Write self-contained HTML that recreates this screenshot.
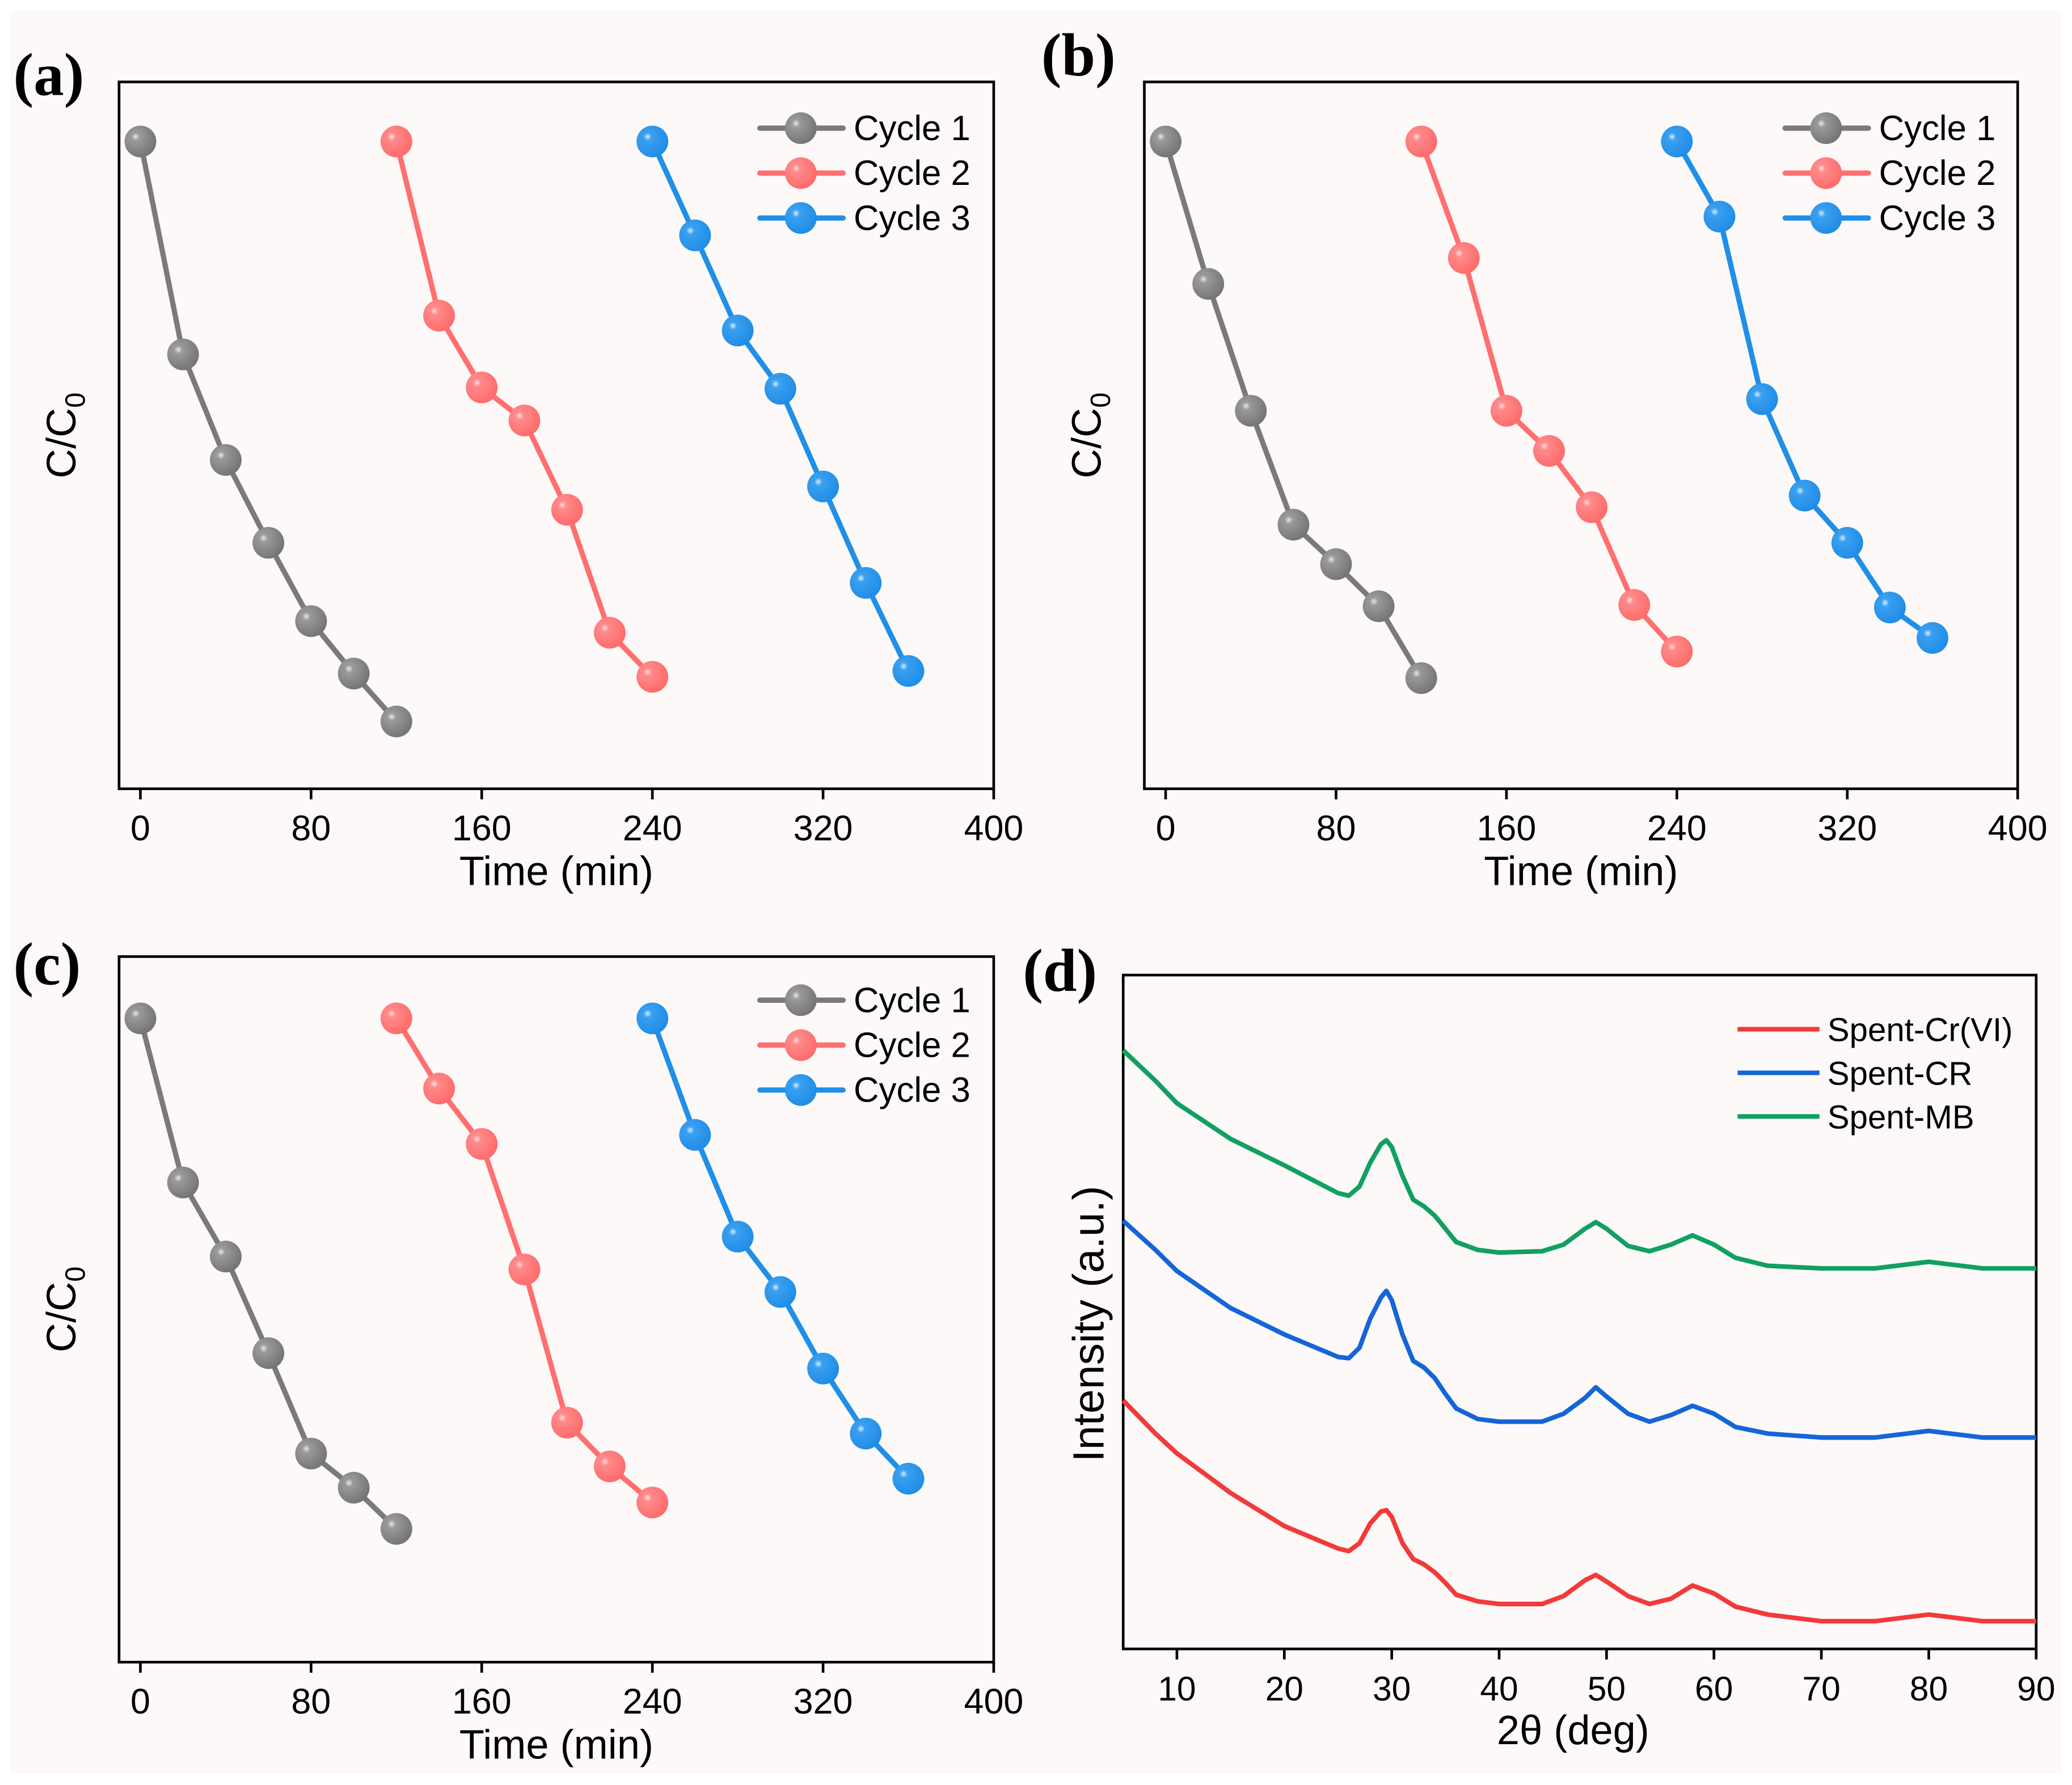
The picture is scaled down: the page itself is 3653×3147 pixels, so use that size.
<!DOCTYPE html>
<html><head><meta charset="utf-8"><style>
html,body{margin:0;padding:0;background:#fff;}
svg{display:block;font-family:"Liberation Sans",sans-serif;}
</style></head><body>
<svg id="fig" xmlns="http://www.w3.org/2000/svg" width="3653" height="3147" viewBox="0 0 1568 1351">
<defs>
<radialGradient id="gGray" cx="0.35" cy="0.35" r="0.7"><stop offset="0" stop-color="#e8e8e8"/><stop offset="0.18" stop-color="#9a9a9a"/><stop offset="1" stop-color="#737373"/></radialGradient>
<radialGradient id="gRed" cx="0.35" cy="0.35" r="0.7"><stop offset="0" stop-color="#ffe0e0"/><stop offset="0.18" stop-color="#ff8a8a"/><stop offset="1" stop-color="#ff6a6a"/></radialGradient>
<radialGradient id="gBlue" cx="0.35" cy="0.35" r="0.7"><stop offset="0" stop-color="#d8ecff"/><stop offset="0.18" stop-color="#3aa0f0"/><stop offset="1" stop-color="#1e8ce6"/></radialGradient>
</defs>
<rect x="8" y="8" width="1552" height="1335" fill="#fdf9f8"/>
<g id="root"></g>
</svg>
<script>
// ---- data: kinetics panels ----
const cycle1Times = [0,20,40,60,80,100,120];
const cycle2Times = [120,140,160,180,200,220,240];
const cycle3Times = [240,260,280,300,320,340,360];
const xTicks = [0,80,160,240,320,400];
const legendLabels = ["Cycle 1","Cycle 2","Cycle 3"];
const aCycle1 = [1,0.671,0.508,0.380,0.259,0.178,0.104];
const aCycle2 = [1,0.731,0.620,0.569,0.431,0.241,0.173];
const aCycle3 = [1,0.855,0.708,0.618,0.467,0.318,0.182];
const bCycle1 = [1,0.780,0.584,0.408,0.347,0.282,0.171];
const bCycle2 = [1,0.820,0.584,0.522,0.435,0.284,0.212];
const bCycle3 = [1,0.884,0.602,0.453,0.380,0.280,0.233];
const cCycle1 = [1,0.745,0.630,0.480,0.324,0.271,0.207];
const cCycle2 = [1,0.891,0.805,0.610,0.372,0.304,0.248];
const cCycle3 = [1,0.819,0.661,0.575,0.456,0.355,0.285];
// ---- data: XRD panel ----
const xrdAngles = [5,8,10,15,20,25,26,27,28,29,29.5,30,31,32,33,34,35,36,38,40,44,46,48,49,50,52,54,56,58,60,62,65,70,75,80,85,90];
const xrdMB = [453,430,413,386,366,345,343,350,368,382,385,380,358,340,335,328,318,308,302,300,301,306,318,323,318,305,301,306,313,306,296,290,288,288,293,288,288];
const xrdCR = [324,302,286,258,238,221,220,228,250,266,271,264,238,218,213,205,193,182,174,172,172,178,190,198,191,178,172,177,184,178,168,163,160,160,165,160,160];
const xrdCrVI = [188,163,148,118,93,76,74,80,95,104,105,100,80,68,64,58,50,41,36,34,34,40,52,56,51,40,34,38,48,42,32,26,21,21,26,21,21];
const xrdTicks = [10,20,30,40,50,60,70,80,90];
const xrdLabels = ["Spent-Cr(VI)","Spent-CR","Spent-MB"];

const NS="http://www.w3.org/2000/svg";
const root=document.getElementById('root');
function mk(tag,attrs,parent){const e=document.createElementNS(NS,tag);for(const k in attrs)e.setAttribute(k,attrs[k]);(parent||root).appendChild(e);return e;}

const colors=["#7a7a7a","#ff6f6f","#1f8fe8"];
const grads=["url(#gGray)","url(#gRed)","url(#gBlue)"];

function kinetic(name,box,ymax,series,legendY,label,labelPos){
  const g=mk('g',{});
  
  
  const xs=v=>box.l+(v+10)/410*(box.r-box.l);
  const ys=v=>box.b-v/ymax*(box.b-box.t);
  const fr=mk('rect',{x:box.l,y:box.t,width:box.r-box.l,height:box.b-box.t,fill:'none',stroke:'#000','stroke-width':2},g);
  
  
  xTicks.forEach(t=>{
    const tk=mk('line',{x1:xs(t),x2:xs(t),y1:box.b,y2:box.b+8,stroke:'#000','stroke-width':2},g);
    
    
    const tl=mk('text',{x:xs(t),y:box.b+39,'text-anchor':'middle','font-size':27},g);
    tl.textContent=t;
    
    
  });
  const xt=mk('text',{x:(box.l+box.r)/2,y:box.b+73,'text-anchor':'middle','font-size':31},g);
  xt.textContent='Time (min)';
  
  
  const yt=mk('text',{x:0,y:0,'text-anchor':'middle','font-size':31,transform:`translate(${box.l-33},${(box.t+box.b)/2}) rotate(-90)`},g);
  yt.innerHTML='C/C<tspan font-size="21" dy="7">0</tspan>';
  
  
  const times=[cycle1Times,cycle2Times,cycle3Times];
  series.forEach((vals,i)=>{
    const pts=vals.map((v,j)=>xs(times[i][j])+','+ys(v)).join(' ');
    const pl=mk('polyline',{points:pts,fill:'none',stroke:colors[i],'stroke-width':4,'stroke-linejoin':'round'},g);
    
    
    vals.forEach((v,j)=>{
      const c=mk('circle',{cx:xs(times[i][j]),cy:ys(v),r:12,fill:grads[i]},g);
      
      
    });
  });
  legendLabels.forEach((lb,i)=>{
    const y=legendY+i*34;
    const ll=mk('line',{x1:box.l+485,x2:box.l+548,y1:y,y2:y,stroke:colors[i],'stroke-width':4,'stroke-linecap':'round'},g);
    
    
    const lc=mk('circle',{cx:box.l+516,cy:y,r:12,fill:grads[i]},g);
    
    
    const lt=mk('text',{x:box.l+556,y:y+9,'font-size':26.5},g);
    lt.textContent=lb;
    
    
  });
  const pl=mk('text',{x:labelPos[0],y:labelPos[1],'font-size':46,'font-weight':'bold','font-family':'Liberation Serif, serif'},g);
  pl.textContent=label;
  
  
}
kinetic('panel-a',{l:90,r:752,t:62,b:597},1.092,[aCycle1,aCycle2,aCycle3],97,'(a)',[10,72]);
kinetic('panel-b',{l:866,r:1527,t:62,b:597},1.092,[bCycle1,bCycle2,bCycle3],97,'(b)',[788,57]);
kinetic('panel-c',{l:90,r:752,t:724,b:1258},1.096,[cCycle1,cCycle2,cCycle3],757,'(c)',[10,745]);

// XRD panel
(function(){
  const box={l:850,r:1541,t:738,b:1248};
  const g=mk('g',{});
  
  
  const xs=v=>box.l+(v-5)/85*(box.r-box.l);
  const ys=v=>box.b-v/510*(box.b-box.t);
  const fr=mk('rect',{x:box.l,y:box.t,width:box.r-box.l,height:box.b-box.t,fill:'none',stroke:'#000','stroke-width':2},g);
  
  
  xrdTicks.forEach(t=>{
    const tk=mk('line',{x1:xs(t),x2:xs(t),y1:box.b,y2:box.b+8,stroke:'#000','stroke-width':2},g);
    
    
    const tl=mk('text',{x:xs(t),y:box.b+39,'text-anchor':'middle','font-size':26},g);
    tl.textContent=t;
    
    
  });
  const xt=mk('text',{x:(box.l+box.r)/2-5,y:box.b+72,'text-anchor':'middle','font-size':31},g);
  xt.textContent='2θ (deg)';
  
  
  const yt=mk('text',{x:0,y:0,'text-anchor':'middle','font-size':33,transform:`translate(${box.l-15},1002) rotate(-90)`},g);
  yt.textContent='Intensity (a.u.)';
  
  
  const sets=[xrdCrVI,xrdCR,xrdMB];
  const cols=["#f23a3a","#1565d8","#12a060"];
  const names=["spent-crvi-curve","spent-cr-curve","spent-mb-curve"];
  sets.forEach((vals,i)=>{
    const pts=vals.map((v,j)=>xs(xrdAngles[j])+','+ys(v)).join(' ');
    const pl=mk('polyline',{points:pts,fill:'none',stroke:cols[i],'stroke-width':3.5,'stroke-linejoin':'round'},g);
    
    
  });
  xrdLabels.forEach((lb,i)=>{
    const y=779+i*33;
    const ll=mk('line',{x1:1315,x2:1377,y1:y,y2:y,stroke:cols[i],'stroke-width':3.5},g);
    
    
    const lt=mk('text',{x:1383,y:y+9,'font-size':25},g);
    lt.textContent=lb;
    
    
  });
  const pl=mk('text',{x:774,y:750,'font-size':46,'font-weight':'bold','font-family':'Liberation Serif, serif'},g);
  pl.textContent='(d)';
  
  
})();
</script>
</body></html>
